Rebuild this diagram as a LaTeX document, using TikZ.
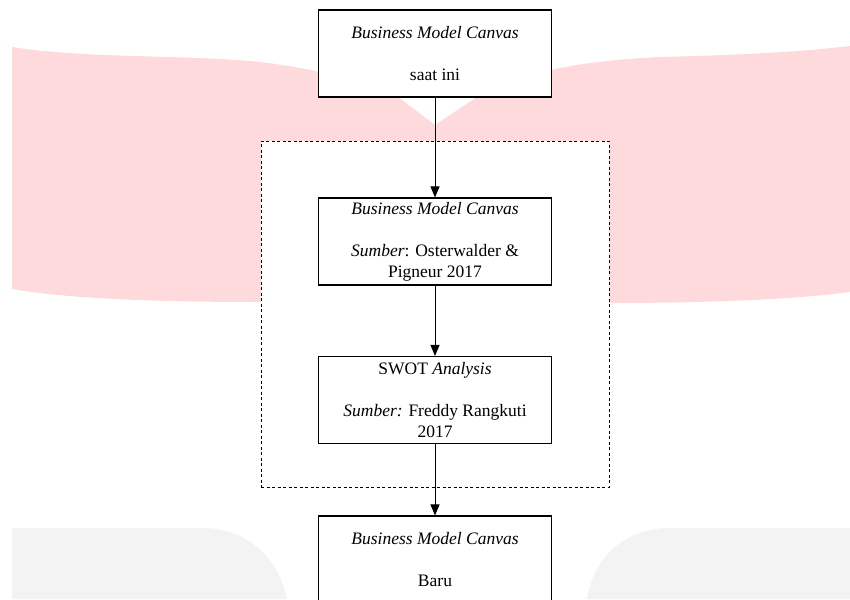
\documentclass[tikz,border=0pt]{standalone}
\usepackage{fontspec}
\setmainfont{Liberation Serif}
\usepackage{tikz}
\usetikzlibrary{arrows.meta, positioning}
\definecolor{wmpink}{RGB}{255, 218, 220}
\definecolor{wmgray}{RGB}{243, 243, 243}
\tikzset{
  stagebox/.style={draw, fill=white, line width=1.1pt, minimum width=233pt, minimum height=87pt, align=center, inner sep=0pt, font=\fontsize{17.5}{21}\selectfont},
  scopebox/.style={draw, fill=white, line width=0.9pt, dash pattern=on 3pt off 2.5pt, minimum width=348pt, minimum height=346pt, inner sep=0pt},
  flow/.style={-{Triangle[length=11pt, width=9pt]}, line width=1pt}
}

\begin{document}
\begin{tikzpicture}[x=1pt, y=-1pt]
  \useasboundingbox (0, 0) rectangle (850, 599);
  \clip (0, 0) rectangle (850, 599);

  % Background watermark
  \fill[wmpink] (12, 47) .. controls (80, 58) and (180, 55) .. (250, 61)
    .. controls (300, 66) and (330, 74) .. (360, 82) -- (398, 97) -- (435, 125) -- (477, 97)
    -- (520, 78) .. controls (560, 66) and (600, 60) .. (660, 57)
    .. controls (740, 55) and (800, 52) .. (850, 46) -- (850, 292)
    .. controls (790, 300) and (700, 303) .. (610, 303) -- (260, 302)
    .. controls (160, 302) and (70, 299) .. (12, 289) -- cycle;
  \fill[wmgray] (12, 599) -- (12, 528) -- (205, 528)
    .. controls (255, 530) and (280, 565) .. (287, 599) -- cycle;
  \fill[wmgray] (850, 599) -- (850, 528) -- (667, 528)
    .. controls (617, 530) and (592, 565) .. (587, 599) -- cycle;

  % Dashed frame around the two methods
  \node[scopebox] (frame) at (435, 314) {};

  % Stages
  \node[stagebox] (bmcnow) at (435, 53.5) {\textit{Business Model Canvas}\\[21pt]saat ini};
  \node[stagebox] (bmcref) at (435, 241.5) {\textit{Business Model Canvas}\\[21pt]\textit{Sumber}: Osterwalder \&\\Pigneur 2017};
  \node[stagebox] (swot) at (435, 400) {SWOT \textit{Analysis}\\[21pt]\textit{Sumber:} Freddy Rangkuti\\2017};
  \node[stagebox] (bmcnew) at (435, 559.5) {\textit{Business Model Canvas}\\[21pt]Baru};

  % Flow
  \draw[flow] (bmcnow) -- (bmcref);
  \draw[flow] (bmcref) -- (swot);
  \draw[flow] (swot) -- (bmcnew);
\end{tikzpicture}
\end{document}
